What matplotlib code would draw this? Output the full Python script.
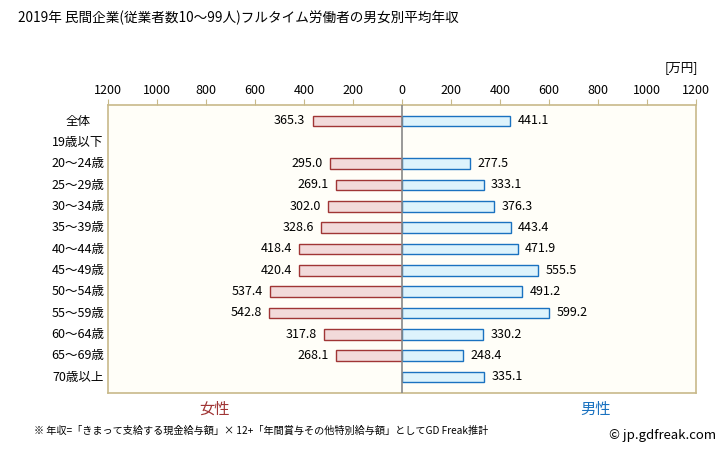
import matplotlib
matplotlib.use("Agg")
import matplotlib.pyplot as plt
import numpy as np

plt.rcParams['font.family'] = ['Noto Sans CJK JP', 'DejaVu Sans']

categories = ["全体", "19歳以下", "20～24歳", "25～29歳", "30～34歳", "35～39歳", "40～44歳",
              "45～49歳", "50～54歳", "55～59歳", "60～64歳", "65～69歳", "70歳以上"]
female = [365.3, None, 295.0, 269.1, 302.0, 328.6, 418.4, 420.4, 537.4, 542.8, 317.8, 268.1, None]
male = [441.1, None, 277.5, 333.1, 376.3, 443.4, 471.9, 555.5, 491.2, 599.2, 330.2, 248.4, 335.1]
ticks = [-1200, -1000, -800, -600, -400, -200, 0, 200, 400, 600, 800, 1000, 1200]
tick_labels = ["1200", "1000", "800", "600", "400", "200", "0", "200", "400", "600", "800", "1000", "1200"]

W, H = 728, 451
fig = plt.figure(figsize=(W / 100, H / 100), dpi=100)
ax = fig.add_axes([108 / W, 1 - 393 / H, 588 / W, 288 / H])
ax.set_facecolor("#fffef8")

n = len(categories)
fc_f, ec_f = "#f2dada", "#a03535"
fc_m, ec_m = "#ddf3fc", "#1a72c0"
for i in range(n):
    if female[i] is not None:
        ax.barh(i, -female[i], height=0.5, color=fc_f, edgecolor=ec_f, linewidth=1.0, zorder=2)
        ax.text(-female[i] - 30, i, f"{female[i]:.1f}", ha="right", va="center", fontsize=9)
    if male[i] is not None:
        ax.barh(i, male[i], height=0.5, color=fc_m, edgecolor=ec_m, linewidth=1.0, zorder=2)
        ax.text(male[i] + 30, i, f"{male[i]:.1f}", ha="left", va="center", fontsize=9)

ax.axvline(0, color="#888888", linewidth=1.2, zorder=3)
ax.set_xlim(-1200, 1200)
ax.set_ylim(n - 0.5 + 0.25, -0.5 - 0.25)
ax.xaxis.tick_top()
ax.set_xticks(ticks)
ax.set_xticklabels(tick_labels, fontsize=9)
ax.tick_params(axis="x", length=4, color="#c8b98a", pad=2)
ax.set_yticks([])
for s in ax.spines.values():
    s.set_color("#c8b98a")
    s.set_linewidth(1.2)

for i, c in enumerate(categories):
    yy = ax.transData.transform((0, i))[1]
    fig.text(78 / W, yy / H, c, ha="center", va="center", fontsize=9)

fig.text(18 / W, 1 - 18 / H, "2019年 民間企業(従業者数10～99人)フルタイム労働者の男女別平均年収",
         ha="left", va="center", fontsize=9.8)
fig.text(698 / W, 1 - 68 / H, "[万円]", ha="right", va="center", fontsize=9)
fig.text(215 / W, 1 - 409 / H, "女性", ha="center", va="center", fontsize=11, color="#a03535")
fig.text(596 / W, 1 - 409 / H, "男性", ha="center", va="center", fontsize=11, color="#1a72c0")
fig.text(34 / W, 1 - 431 / H,
         "※ 年収=「きまって支給する現金給与額」× 12+「年間賞与その他特別給与額」としてGD Freak推計",
         ha="left", va="center", fontsize=7.3)
fig.text(716 / W, 1 - 435 / H, "© jp.gdfreak.com", ha="right", va="center", fontsize=9.5)

fig.savefig("out.png", dpi=100)
